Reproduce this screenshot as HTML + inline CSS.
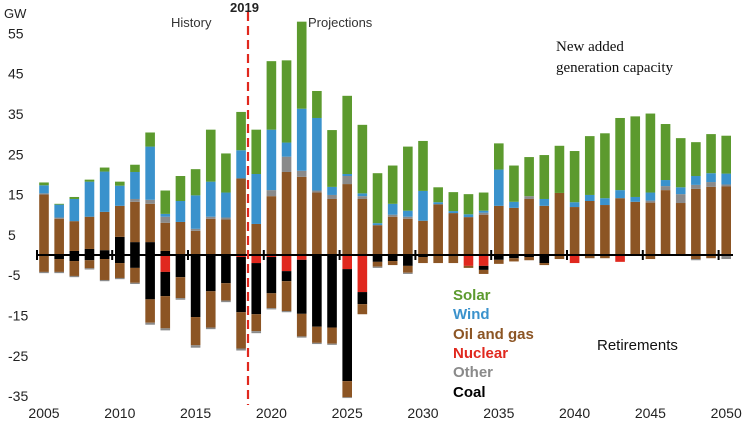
<!DOCTYPE html>
<html><head><meta charset="utf-8"><style>
body{margin:0;background:#fff}
svg{display:block;font-family:"Liberation Sans",sans-serif}
</style></head><body>
<svg id="chart" width="744" height="423" viewBox="0 0 744 423" xmlns="http://www.w3.org/2000/svg">
<g id="bars"></g>
<g id="axes"></g>
<line x1="248" y1="12" x2="248" y2="405" stroke="#e0281e" stroke-width="2.2" stroke-dasharray="9,5"/>
<text x="230" y="12" font-size="13" font-weight="bold" fill="#222">2019</text>
<text x="171" y="27" font-size="13" fill="#333">History</text>
<text x="308" y="27" font-size="13" fill="#333">Projections</text>
<text x="4" y="18" font-size="13" fill="#222">GW</text>
<text font-family="Liberation Serif,serif" font-size="15" fill="#111"><tspan x="556" y="51">New added</tspan><tspan x="556" y="72">generation capacity</tspan></text>
<text x="597" y="350" font-size="15" fill="#111">Retirements</text>
<g font-size="15" font-weight="bold">
<text x="453" y="300" fill="#5c9a2e">Solar</text>
<text x="453" y="319" fill="#3a92cc">Wind</text>
<text x="453" y="339" fill="#8c5524">Oil and gas</text>
<text x="453" y="358" fill="#e0281e">Nuclear</text>
<text x="453" y="377" fill="#8a8a8a">Other</text>
<text x="453" y="397" fill="#000">Coal</text>
</g>
</svg>
<script>
const years=[];for(let y=2005;y<=2050;y++)years.push(y);
const solar=[0.7,0.2,0.5,0.5,1,1,1.8,3.5,5.8,6.2,6.5,12.9,9.7,9.5,11,17,20.4,21.6,6.7,14.1,19.4,17,12.4,9.5,15.9,12.4,3.7,4.7,5,4.5,6.5,9,9.7,10.9,11.7,12.7,14.6,16.1,17.9,20,19.6,13.9,12.2,8.4,9.7,9.4];
const wind=[2,3.2,5.5,8.7,10,5,6.7,13.2,0.7,5.2,8.3,8.7,6.2,7,12.4,15,3.5,15.4,18,2,0.5,0.7,0.5,2.7,1.5,7.4,0.5,0.5,0.7,0.5,9,1.5,0,1.7,0,1.2,1.5,1.7,2,1.2,2,1.5,1.7,2.2,2.2,2.7];
const otherAdd=[0.3,0.3,0,0,0,0,0.7,1,1.5,0,0.5,0.5,0.5,0,0,1.5,3.8,1.5,0.5,1,2,0.7,0,0.5,0.5,0,0,0,0,0.5,0,0,0.7,0,0,0,0,0,0,0,0.5,1,2.2,1,1.2,0.5];
const gasAdd=[15,9,7.4,8,9.5,7.7,10,9.5,7,8.2,6,9,8.8,19,7.7,14.6,20.6,19.4,15.5,13.9,17.6,13.9,7.4,9.5,9,8.5,12.6,10.4,9.4,10,12.2,11.7,13.9,12.2,15.4,11.9,13.4,12.4,14.1,13.2,13,16.1,12.9,16.4,16.9,17];
const coalAdd=[0,0,1,1.5,1.2,4.5,3.2,3.2,1,0,0,0,0,0,0,0,0,0,0,0,0,0,0,0,0,0,0,0,0,0,0,0,0,0,0,0,0,0,0,0,0,0,0,0,0,0];
const nucRet=[0,0,0,0,0,0,0,0,4.2,0,0,0,0,0.5,2,0.5,4,1.2,0,0,3.5,9.2,0,0,0,0,0,0,2.7,2.7,0,0,0,0,0,2,0,0,1.7,0,0,0,0,0,0,0];
const coalRet=[0,1,1.5,1.3,1,2,3.2,11,6,5.5,15.4,9,7,13.7,12.7,9,2.5,13.4,17.8,18,27.8,3,1.7,1.5,2.7,0.5,0,0,0,1,1.2,0.8,0.5,2,0,0,0,0,0,0,0,0,0,0,0,0];
const gasRet=[4.2,3.2,3.7,2,5.2,3.7,3.7,5.8,8,5.2,7,9,4.3,9,4.2,3.7,7.4,5.6,4,4,4,2.5,1.2,1,1.7,1.5,2,2,0.5,1,1,0.8,0.8,0.5,1,0,0.8,0.8,0,0,1,0,0,1,0.8,0];
const otherRet=[0.3,0.3,0.3,0.3,0.3,0.3,0.3,0.5,0.5,0.4,0.6,0.4,0.4,0.5,0.5,0.3,0.3,0.3,0.3,0.3,0.2,0,0.3,0,0.3,0,0,0,0,0,0,0,0,0,0,0,0,0,0,0,0,0,0,0.3,0,1,0,0,0.3];
const yTicks=[55,45,35,25,15,5,-5,-15,-25,-35];
const xTicks=[2005,2010,2015,2020,2025,2030,2035,2040,2045,2050];
const NS='http://www.w3.org/2000/svg';
const X=yr=>44+(yr-2005)*15.16;
const Y=v=>255-v*4.03;
const bars=document.getElementById('bars'),axes=document.getElementById('axes');
function rect(x,y0,y1,fill){const r=document.createElementNS(NS,'rect');
r.setAttribute('x',x-4.8);r.setAttribute('width',9.6);r.setAttribute('y',Math.min(y0,y1));r.setAttribute('height',Math.abs(y1-y0));r.setAttribute('fill',fill);


bars.appendChild(r);}
years.forEach((yr,i)=>{const x=X(yr);let c=0;
[[coalAdd,'#000'],[gasAdd,'#8c5524'],[otherAdd,'#8a8a8a'],[wind,'#3a92cc'],[solar,'#5c9a2e']].forEach(([a,f])=>{const v=a[i]||0;if(v>0){rect(x,Y(c),Y(c+v),f);c+=v;}});
c=0;[[nucRet,'#e0281e'],[coalRet,'#000'],[gasRet,'#8c5524'],[otherRet,'#8a8a8a']].forEach(([a,f])=>{const v=a[i]||0;if(v>0){rect(x,Y(-c),Y(-c-v),f);c+=v;}});});
function txt(s,x,y,anchor,name){const t=document.createElementNS(NS,'text');t.setAttribute('x',x);t.setAttribute('y',y);t.setAttribute('font-size','14');t.setAttribute('fill','#222');t.setAttribute('text-anchor',anchor);t.textContent=s;


axes.appendChild(t);}
const ax=document.createElementNS(NS,'line');ax.setAttribute('x1',37);ax.setAttribute('x2',733);ax.setAttribute('y1',Y(0));ax.setAttribute('y2',Y(0));ax.setAttribute('stroke','#000');ax.setAttribute('stroke-width','2');


axes.appendChild(ax);
xTicks.forEach(t=>{const tk=document.createElementNS(NS,'line');const x=t===2005?37:X(t)-7.6;tk.setAttribute('x1',x);tk.setAttribute('x2',x);tk.setAttribute('y1',Y(0)-5);tk.setAttribute('y2',Y(0)+5);tk.setAttribute('stroke','#000');tk.setAttribute('stroke-width','2');


axes.appendChild(tk);
txt(String(t),X(t),418,'middle','x-tick-label');});
yTicks.forEach(v=>txt(String(v),8,Y(v)+5,'start','y-tick-label'));
</script>
</body></html>
